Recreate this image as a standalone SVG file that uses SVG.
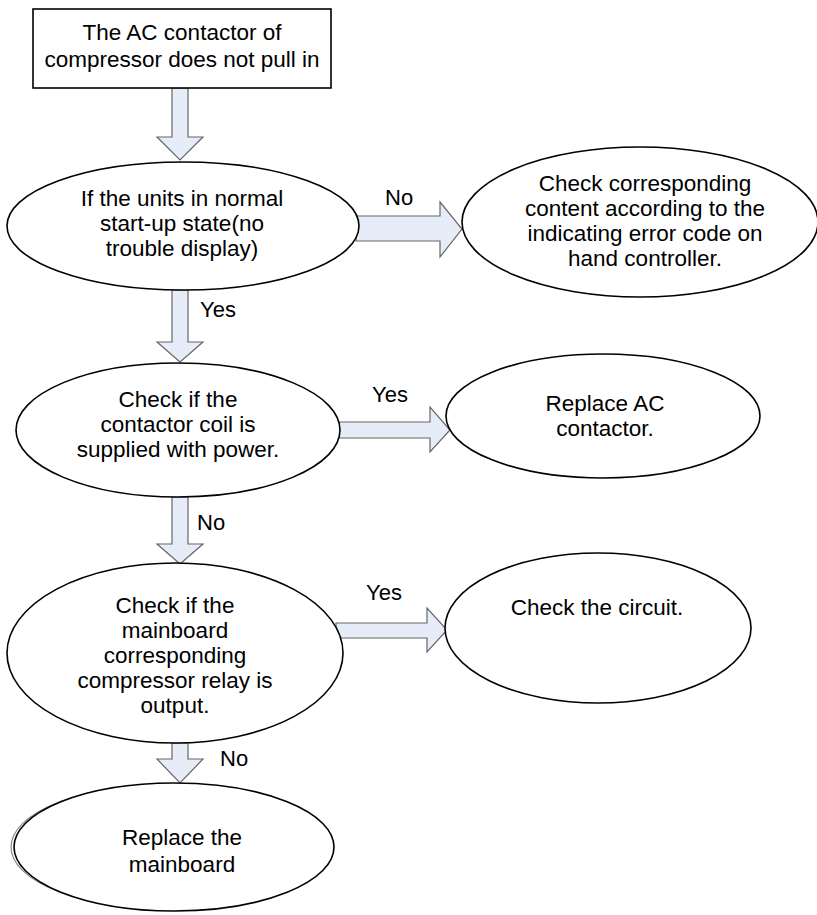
<svg xmlns="http://www.w3.org/2000/svg" width="817" height="915" viewBox="0 0 817 915">
<style>
.node{fill:#fff;stroke:#000;stroke-width:1.6}
.t{font-family:"Liberation Sans",Arial,sans-serif;font-size:22.5px;fill:#000;text-anchor:middle}
.lbl{font-family:"Liberation Sans",Arial,sans-serif;font-size:22px;fill:#000}
.arr{fill:#e6edf8;stroke:#666;stroke-width:1.2;stroke-linejoin:miter}
</style>
<rect width="817" height="915" fill="#fff"/>
<g id="connectors">
<polygon class="arr" points="172,88 188,88 188,137 203,137 180,160 157,137 172,137"/>
<polygon class="arr" points="172,290 188,290 188,342 203,342 180,362 157,342 172,342"/>
<polygon class="arr" points="172,497 188,497 188,544 203,544 180,564 157,544 172,544"/>
<polygon class="arr" points="172,743 188,743 188,759 203,759 180,783 157,759 172,759"/>
<polygon class="arr" points="356,216 440,216 440,202 462,229 440,257 440,241 356,241"/>
<polygon class="arr" points="339,422 430,422 430,407 450,430 430,452 430,438 339,438"/>
<polygon class="arr" points="336,623 427,623 427,608 447,630 427,652 427,638 336,638"/>
<text class="lbl" x="385" y="205">No</text>
<text class="lbl" x="200" y="317">Yes</text>
<text class="lbl" x="372" y="402">Yes</text>
<text class="lbl" x="197" y="530">No</text>
<text class="lbl" x="366" y="600">Yes</text>
<text class="lbl" x="220" y="766">No</text>
</g>
<g id="start">
<rect class="node" x="33" y="9" width="298" height="79"/>
<text class="t" x="182" y="40">The AC contactor of</text>
<text class="t" x="182" y="67">compressor does not pull in</text>
</g>
<g id="q1">
<ellipse class="node" cx="183" cy="226" rx="176" ry="64"/>
<text class="t" x="182" y="206">If the units in normal</text>
<text class="t" x="182" y="231">start-up state(no</text>
<text class="t" x="182" y="256">trouble display)</text>
</g>
<g id="errcode">
<ellipse class="node" cx="640" cy="222" rx="178" ry="75"/>
<text class="t" x="645" y="191">Check corresponding</text>
<text class="t" x="645" y="216">content according to the</text>
<text class="t" x="645" y="241">indicating error code on</text>
<text class="t" x="645" y="266">hand controller.</text>
</g>
<g id="q2">
<ellipse class="node" cx="178" cy="430" rx="162" ry="67"/>
<text class="t" x="178" y="407">Check if the</text>
<text class="t" x="178" y="432">contactor coil is</text>
<text class="t" x="178" y="457">supplied with power.</text>
</g>
<g id="replaceac">
<ellipse class="node" cx="603" cy="416" rx="157" ry="62"/>
<text class="t" x="605" y="411">Replace AC</text>
<text class="t" x="605" y="436">contactor.</text>
</g>
<g id="q3">
<ellipse class="node" cx="175" cy="653" rx="168" ry="90"/>
<text class="t" x="175" y="613">Check if the</text>
<text class="t" x="175" y="638">mainboard</text>
<text class="t" x="175" y="663">corresponding</text>
<text class="t" x="175" y="688">compressor relay is</text>
<text class="t" x="175" y="713">output.</text>
</g>
<g id="circuit">
<ellipse class="node" cx="598" cy="628" rx="153" ry="75"/>
<text class="t" x="597" y="615">Check the circuit.</text>
</g>
<g id="replacemb">
<ellipse cx="171" cy="847" rx="160" ry="63" fill="none" stroke="#888" stroke-width="1.2"/>
<ellipse class="node" cx="174" cy="847" rx="160" ry="64"/>
<text class="t" x="182" y="845">Replace the</text>
<text class="t" x="182" y="872">mainboard</text>
</g>
</svg>
